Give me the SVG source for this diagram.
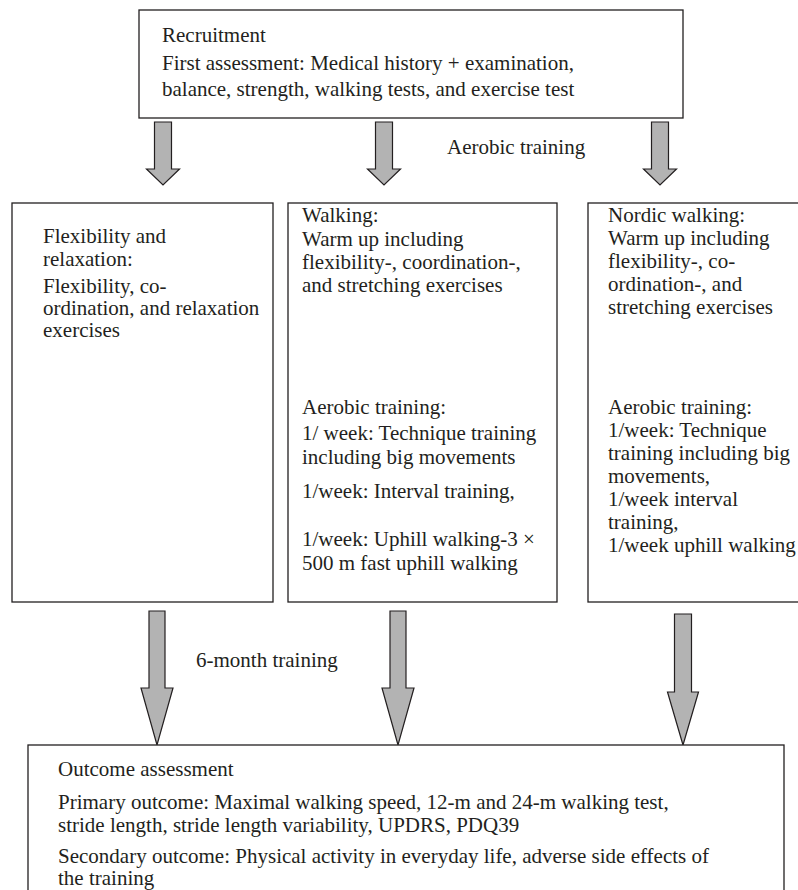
<svg xmlns="http://www.w3.org/2000/svg" width="798" height="890" viewBox="0 0 798 890">
<style>
.box{fill:#fff;stroke:#231f20;stroke-width:1.3}
.arr{fill:#b3b3b3;stroke:#231f20;stroke-width:1.2;stroke-linejoin:miter}
text{font-family:"Liberation Serif","Times New Roman",serif;font-size:21px;fill:#231f20}
</style>
<rect width="798" height="890" fill="#fff"/>
<g id="recruitment">
<rect class="box" x="139" y="10" width="544" height="108"/>
<text x="162" y="42">Recruitment</text>
<text x="162" y="70">First assessment: Medical history + examination,</text>
<text x="162" y="96">balance, strength, walking tests, and exercise test</text>
</g>
<g id="connectors">
<path class="arr" d="M154.5,122H171.5V169H179.5L163,185L146.5,169H154.5Z"/>
<path class="arr" d="M375.5,122H392.5V169H400.5L384,185L367.5,169H375.5Z"/>
<path class="arr" d="M651.5,122H668.5V169H676.5L660,185L643.5,169H651.5Z"/>
<text x="447" y="154">Aerobic training</text>
<path class="arr" d="M149,611H165V688H173L157,745L141,688H149Z"/>
<path class="arr" d="M390,611H406V688H414L398,745L382,688H390Z"/>
<path class="arr" d="M674.5,614H691.5V692H698.5L683,745L667.5,692H674.5Z"/>
<text x="196" y="667">6-month training</text>
</g>
<g id="flexibility">
<rect class="box" x="12" y="203" width="261" height="399"/>
<text x="43" y="243">Flexibility and</text>
<text x="43" y="266">relaxation:</text>
<text x="43" y="293">Flexibility, co-</text>
<text x="43" y="315">ordination, and relaxation</text>
<text x="43" y="337">exercises</text>
</g>
<g id="walking">
<rect class="box" x="288" y="203" width="269" height="399"/>
<text x="302" y="222">Walking:</text>
<text x="302" y="246">Warm up including</text>
<text x="302" y="269">flexibility-, coordination-,</text>
<text x="302" y="292">and stretching exercises</text>
<text x="302" y="414">Aerobic training:</text>
<text x="302" y="440">1/ week: Technique training</text>
<text x="302" y="464">including big movements</text>
<text x="302" y="498">1/week: Interval training,</text>
<text x="302" y="546">1/week: Uphill walking-3 ×</text>
<text x="302" y="570">500 m fast uphill walking</text>
</g>
<g id="nordic">
<rect class="box" x="588" y="203" width="220" height="399"/>
<text x="608" y="222">Nordic walking:</text>
<text x="608" y="245">Warm up including</text>
<text x="608" y="268">flexibility-, co-</text>
<text x="608" y="291">ordination-, and</text>
<text x="608" y="314">stretching exercises</text>
<text x="608" y="414">Aerobic training:</text>
<text x="608" y="437">1/week: Technique</text>
<text x="608" y="460">training including big</text>
<text x="608" y="483">movements,</text>
<text x="608" y="506">1/week interval</text>
<text x="608" y="529">training,</text>
<text x="608" y="552">1/week uphill walking</text>
</g>
<g id="outcome">
<rect class="box" x="28" y="745" width="756" height="160"/>
<text x="58" y="776">Outcome assessment</text>
<text x="58" y="809">Primary outcome: Maximal walking speed, 12-m and 24-m walking test,</text>
<text x="58" y="832">stride length, stride length variability, UPDRS, PDQ39</text>
<text x="58" y="863">Secondary outcome: Physical activity in everyday life, adverse side effects of</text>
<text x="58" y="885">the training</text>
</g>
</svg>
